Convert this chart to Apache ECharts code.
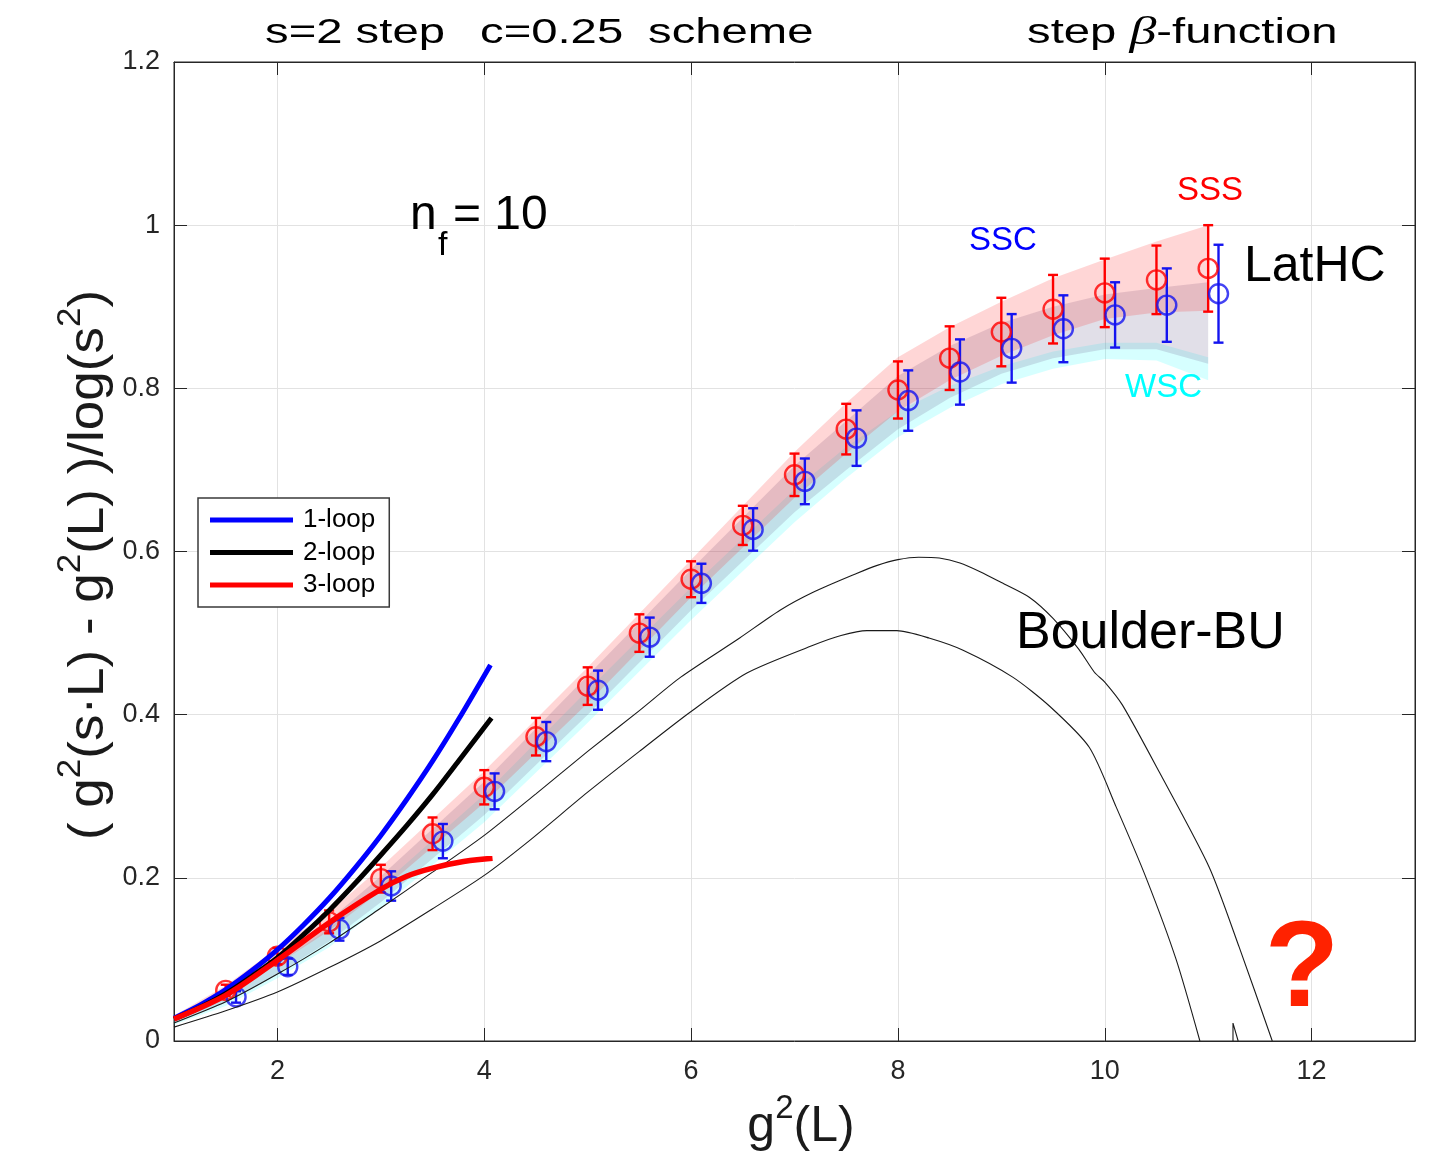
<!DOCTYPE html>
<html lang="en">
<head>
  <meta charset="UTF-8">
  <title>s=2 step beta-function, nf=10</title>
  <script src="https://cdn.jsdelivr.net/npm/echarts/dist/echarts.min.js"></script>
  <style>
    html, body { margin: 0; padding: 0; background: #ffffff; }
    #chart { width: 1441px; height: 1166px; }
  </style>
</head>
<body>
  <div id="chart"></div>

  <script>
    // axis ticks
    const xTicks = [2, 4, 6, 8, 10, 12];

    // LatHC data points (SSS red, SSC blue)
    const sssX = [1.5, 2, 2.5, 3, 3.5, 4, 4.5, 5, 5.5, 6, 6.5, 7, 7.5, 8, 8.5, 9, 9.5, 10, 10.5, 11];
    const sssY = [0.062, 0.104, 0.146, 0.199, 0.254, 0.311, 0.373, 0.435, 0.500, 0.566, 0.632, 0.694, 0.750, 0.798, 0.837, 0.869, 0.897, 0.917, 0.933, 0.947];
    const sssErr = [0.007, 0.010, 0.014, 0.017, 0.020, 0.021, 0.023, 0.023, 0.023, 0.022, 0.024, 0.026, 0.031, 0.035, 0.039, 0.042, 0.042, 0.042, 0.042, 0.053];

    const sscX = [1.6, 2.1, 2.6, 3.1, 3.6, 4.1, 4.6, 5.1, 5.6, 6.1, 6.6, 7.1, 7.6, 8.1, 8.6, 9.1, 9.6, 10.1, 10.6, 11.1];
    const sscY = [0.054, 0.091, 0.137, 0.190, 0.245, 0.306, 0.367, 0.430, 0.495, 0.561, 0.627, 0.686, 0.739, 0.785, 0.820, 0.849, 0.873, 0.890, 0.902, 0.916];
    const sscErr = [0.007, 0.010, 0.014, 0.018, 0.021, 0.022, 0.024, 0.024, 0.024, 0.024, 0.026, 0.028, 0.034, 0.037, 0.040, 0.042, 0.041, 0.040, 0.045, 0.060];

    // error bands of the fits
    const bandX = [1, 1.5, 2, 2.5, 3, 4, 5, 6, 7, 7.5, 8, 8.5, 9, 9.5, 10, 10.5, 11];
    const sssLo = [0.026, 0.055, 0.094, 0.135, 0.184, 0.292, 0.414, 0.544, 0.666, 0.720, 0.772, 0.810, 0.840, 0.865, 0.885, 0.893, 0.895];
    const sssHi = [0.031, 0.068, 0.114, 0.158, 0.213, 0.331, 0.458, 0.590, 0.722, 0.782, 0.838, 0.875, 0.906, 0.935, 0.958, 0.980, 1.000];
    const sscLo = [0.022, 0.047, 0.082, 0.122, 0.170, 0.277, 0.400, 0.528, 0.648, 0.700, 0.750, 0.788, 0.818, 0.837, 0.848, 0.848, 0.830];
    const sscHi = [0.029, 0.062, 0.104, 0.148, 0.202, 0.318, 0.448, 0.578, 0.705, 0.760, 0.815, 0.852, 0.880, 0.900, 0.915, 0.923, 0.930];
    const wscLo = [0.020, 0.043, 0.077, 0.115, 0.163, 0.268, 0.390, 0.516, 0.636, 0.690, 0.740, 0.776, 0.805, 0.824, 0.836, 0.834, 0.810];
    const wscHi = [0.026, 0.056, 0.094, 0.138, 0.190, 0.302, 0.430, 0.556, 0.676, 0.728, 0.772, 0.803, 0.827, 0.845, 0.856, 0.856, 0.838];

    // perturbative curves
    const loop1X = [1, 1.25, 1.5, 1.75, 2, 2.25, 2.5, 2.75, 3, 3.25, 3.5, 3.75, 4.06];
    const loop1Y = [0.028, 0.044, 0.063, 0.086, 0.112, 0.142, 0.175, 0.212, 0.252, 0.296, 0.343, 0.394, 0.461];
    const loop2X = [1, 1.25, 1.5, 1.75, 2, 2.25, 2.5, 2.75, 3, 3.25, 3.5, 3.75, 4.07];
    const loop2Y = [0.027, 0.041, 0.058, 0.079, 0.102, 0.130, 0.160, 0.193, 0.228, 0.264, 0.302, 0.343, 0.396];
    const loop3X = [1, 1.5, 2, 2.5, 3, 3.25, 3.5, 3.8, 4.08];
    const loop3Y = [0.027, 0.056, 0.099, 0.145, 0.186, 0.202, 0.212, 0.220, 0.224];

    // Boulder-BU curves
    const bbuUpX = [1, 1.5, 2, 2.5, 3, 3.5, 4, 4.5, 5, 5.5, 5.9, 6.47, 6.86, 7.18, 7.6, 7.8, 8.0, 8.2, 8.4, 8.6, 8.8, 9.0, 9.27, 9.5, 9.75, 9.9, 10.0, 10.17, 10.53, 11.01, 11.3, 11.62];
    const bbuUpY = [0.022, 0.048, 0.082, 0.120, 0.163, 0.207, 0.252, 0.303, 0.355, 0.405, 0.446, 0.494, 0.528, 0.550, 0.573, 0.583, 0.590, 0.593, 0.592, 0.586, 0.575, 0.562, 0.544, 0.518, 0.480, 0.452, 0.440, 0.412, 0.329, 0.213, 0.115, 0];
    const bbuLoX = [1, 1.5, 2, 2.5, 3, 3.5, 4, 4.44, 5, 5.5, 5.99, 6.54, 7.18, 7.45, 7.7, 7.99, 8.3, 8.63, 9.11, 9.47, 9.85, 10.11, 10.4, 10.69, 10.92];
    const bbuLoY = [0.017, 0.037, 0.060, 0.090, 0.123, 0.162, 0.203, 0.246, 0.305, 0.355, 0.403, 0.451, 0.485, 0.497, 0.503, 0.503, 0.494, 0.479, 0.446, 0.410, 0.360, 0.287, 0.200, 0.100, 0];
    const bbuSpikeX = [11.24, 11.24, 11.29];
    const bbuSpikeY = [0, 0.022, 0];

    const FONT = '"Liberation Sans", Arial, Helvetica, sans-serif';
    const AXIS_COLOR = '#262626';

    const pairs = (xs, ys) => xs.map((x, i) => [x, ys[i]]);

    function bandSeries(name, lo, hi, color) {
      return {
        name: name,
        type: 'custom',
        silent: true,
        data: bandX.map((x, i) => [x, lo[i], hi[i]]),
        encode: { x: 0, y: [1, 2] },
        renderItem: function (params, api) {
          if (params.dataIndex !== 0) return null;
          const top = bandX.map((x, i) => api.coord([x, hi[i]]));
          const bottom = bandX.map((x, i) => api.coord([x, lo[i]])).reverse();
          return {
            type: 'polygon',
            shape: { points: top.concat(bottom) },
            style: { fill: color }
          };
        }
      };
    }

    function errorSeries(name, xs, ys, errs, color) {
      return {
        name: name,
        type: 'custom',
        silent: true,
        data: xs.map((x, i) => [x, ys[i] - errs[i], ys[i] + errs[i]]),
        encode: { x: 0, y: [1, 2] },
        renderItem: function (params, api) {
          const lo = api.coord([api.value(0), api.value(1)]);
          const hi = api.coord([api.value(0), api.value(2)]);
          const w = 5;
          const st = { stroke: color, lineWidth: 2.4 };
          return {
            type: 'group',
            children: [
              { type: 'line', shape: { x1: lo[0], y1: lo[1], x2: hi[0], y2: hi[1] }, style: st },
              { type: 'line', shape: { x1: lo[0] - w, y1: lo[1], x2: lo[0] + w, y2: lo[1] }, style: st },
              { type: 'line', shape: { x1: hi[0] - w, y1: hi[1], x2: hi[0] + w, y2: hi[1] }, style: st }
            ]
          };
        }
      };
    }

    function pointSeries(name, xs, ys, color) {
      return {
        name: name,
        type: 'scatter',
        silent: true,
        symbol: 'circle',
        symbolSize: 19,
        data: pairs(xs, ys),
        itemStyle: { color: 'rgba(0,0,0,0)', borderColor: color, borderWidth: 2.4 }
      };
    }

    function thinLine(name, xs, ys) {
      return {
        name: name,
        type: 'line',
        silent: true,
        symbol: 'none',
        smooth: 0.25,
        data: pairs(xs, ys),
        lineStyle: { color: '#1a1a1a', width: 1.1 }
      };
    }

    function loopLine(name, xs, ys, color, width) {
      return {
        name: name,
        type: 'line',
        silent: true,
        symbol: 'none',
        smooth: 0.3,
        data: pairs(xs, ys),
        lineStyle: { color: color, width: width },
        itemStyle: { color: color }
      };
    }

    function label(text, left, centerY, size, color, extra) {
      return Object.assign({
        type: 'text',
        x: left,
        y: centerY,
        z: 10,
        silent: true,
        style: {
          text: text,
          fill: color,
          font: size + 'px ' + FONT,
          align: 'left',
          verticalAlign: 'middle'
        }
      }, extra || {});
    }

    const supRich = {
      base: { fontSize: 50, lineHeight: 60, verticalAlign: 'bottom', fill: '#1a1a1a', fontFamily: FONT },
      sup: { fontSize: 33, lineHeight: 33, verticalAlign: 'top', fill: '#1a1a1a', fontFamily: FONT }
    };

    const chart = echarts.init(document.getElementById('chart'), null, { renderer: 'canvas' });

    const sideAxis = {
      axisLine: { show: true, onZero: false, lineStyle: { color: AXIS_COLOR, width: 1 } },
      axisLabel: { show: false },
      splitLine: { show: false }
    };

    const option = {
      backgroundColor: '#ffffff',
      animation: false,
      textStyle: { fontFamily: FONT },
      grid: {
        left: 174, right: 26, top: 62, bottom: 125,
        containLabel: false,
        outerBoundsMode: 'none',
        show: true,
        borderColor: AXIS_COLOR,
        borderWidth: 1,
        backgroundColor: 'rgba(0,0,0,0)'
      },
      legend: {
        data: [
          { name: '1-loop', icon: 'rect' },
          { name: '2-loop', icon: 'rect' },
          { name: '3-loop', icon: 'rect' }
        ],
        orient: 'vertical',
        left: 198,
        top: 498,
        itemWidth: 83,
        itemHeight: 5,
        itemGap: 6.5,
        padding: [9, 14, 9, 12],
        backgroundColor: '#ffffff',
        borderColor: '#3a3a3a',
        borderWidth: 1.5,
        borderRadius: 0,
        selectedMode: false,
        itemStyle: { borderWidth: 0 },
        textStyle: { fontSize: 26, lineHeight: 22, color: '#000', fontFamily: FONT, padding: [0, 0, 0, 5] }
      },
      xAxis: [
        {
          type: 'value',
          min: 1,
          max: 13,
          position: 'bottom',
          axisLine: { show: true, onZero: false, lineStyle: { color: AXIS_COLOR, width: 1 } },
          axisTick: { show: true, inside: true, length: 13, customValues: xTicks, lineStyle: { color: AXIS_COLOR } },
          axisLabel: { customValues: xTicks, fontSize: 27, color: AXIS_COLOR, margin: 17, fontFamily: FONT },
          splitLine: { show: true, lineStyle: { color: '#e2e2e2', width: 1 } }
        },
        Object.assign({
          type: 'value',
          min: 1,
          max: 13,
          position: 'top',
          axisTick: { show: true, inside: true, length: 13, customValues: xTicks, lineStyle: { color: AXIS_COLOR } }
        }, sideAxis)
      ],
      yAxis: [
        {
          type: 'value',
          min: 0,
          max: 1.2,
          interval: 0.2,
          position: 'left',
          axisLine: { show: true, onZero: false, lineStyle: { color: AXIS_COLOR, width: 1 } },
          axisTick: { show: true, inside: true, length: 13, lineStyle: { color: AXIS_COLOR } },
          axisLabel: { fontSize: 27, color: AXIS_COLOR, margin: 14, fontFamily: FONT },
          splitLine: { show: true, lineStyle: { color: '#e2e2e2', width: 1 } }
        },
        Object.assign({
          type: 'value',
          min: 0,
          max: 1.2,
          interval: 0.2,
          position: 'right',
          axisTick: { show: true, inside: true, length: 13, lineStyle: { color: AXIS_COLOR } }
        }, sideAxis)
      ],
      series: [
        bandSeries('WSC band', wscLo, wscHi, 'rgba(0, 255, 255, 0.16)'),
        bandSeries('SSC band', sscLo, sscHi, 'rgba(120, 110, 150, 0.22)'),
        bandSeries('SSS band', sssLo, sssHi, 'rgba(255, 0, 0, 0.16)'),
        thinLine('Boulder-BU upper', bbuUpX, bbuUpY),
        thinLine('Boulder-BU lower', bbuLoX, bbuLoY),
        Object.assign(thinLine('Boulder-BU spike', bbuSpikeX, bbuSpikeY), { smooth: false }),
        errorSeries('SSS err', sssX, sssY, sssErr, '#ff0000'),
        pointSeries('SSS', sssX, sssY, '#ff0000'),
        errorSeries('SSC err', sscX, sscY, sscErr, '#1414f0'),
        pointSeries('SSC', sscX, sscY, '#1414f0'),
        loopLine('1-loop', loop1X, loop1Y, '#0000ff', 5),
        loopLine('2-loop', loop2X, loop2Y, '#000000', 5),
        loopLine('3-loop', loop3X, loop3Y, '#ff0000', 5.5)
      ],
      graphic: [
        label('s=2 step', 265, 33, 35, '#000', { scaleX: 1.35 }),
        label('c=0.25', 480, 33, 35, '#000', { scaleX: 1.35 }),
        label('scheme', 648, 33, 35, '#000', { scaleX: 1.35 }),
        {
          type: 'text', x: 1027, y: 33, z: 10, silent: true, scaleX: 1.35,
          style: {
            text: 'step {b|β}-function',
            fill: '#000',
            font: '35px ' + FONT,
            align: 'left',
            verticalAlign: 'middle',
            rich: {
              b: { fontFamily: '"Liberation Serif", "Times New Roman", serif', fontStyle: 'italic', fontSize: 40, fill: '#000' }
            }
          }
        },
        label('n', 410, 216, 48, '#000'),
        label('f', 438, 246, 34, '#000'),
        label('= 10', 453, 216, 48, '#000'),
        label('SSS', 1177, 191, 33, '#ff0000'),
        label('SSC', 969, 241, 33, '#0000ff'),
        label('WSC', 1125, 388, 33, '#00ffff'),
        label('LatHC', 1244, 267, 50, '#000'),
        label('Boulder-BU', 1016, 634, 52, '#000'),
        {
          type: 'text', x: 1302, y: 972, z: 10, silent: true,
          style: {
            text: '?',
            fill: '#ff2200',
            font: 'bold 122px ' + FONT,
            align: 'center',
            verticalAlign: 'middle'
          }
        },
        // x-axis title
        {
          type: 'text', x: 801, y: 1122, z: 10, silent: true,
          style: {
            text: '{base|g}{sup|2}{base|(L)}',
            align: 'center',
            verticalAlign: 'middle',
            rich: supRich
          }
        },
        // y-axis title, rotated
        {
          type: 'text', x: 84, y: 565, z: 10, silent: true,
          rotation: Math.PI / 2,
          scaleX: 1.06,
          style: {
            text: '{base|( g}{sup|2}{base|(s·L) - g}{sup|2}{base|(L) )/log(s}{sup|2}{base|)}',
            align: 'center',
            verticalAlign: 'middle',
            rich: supRich
          }
        }
      ]
    };

    chart.setOption(option);
  </script>
</body>
</html>
